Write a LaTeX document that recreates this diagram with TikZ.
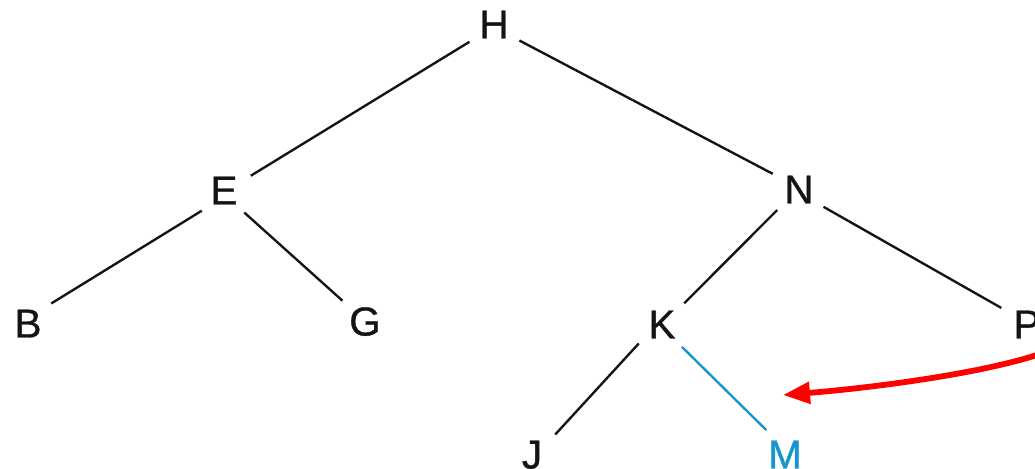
\documentclass[tikz,border=0pt]{standalone}
\usepackage{fontspec}
\setmainfont{Liberation Sans}
\newfontfamily\medsans[FakeBold=0.9]{Liberation Sans}
\usetikzlibrary{arrows.meta}
\definecolor{edgeblue}{RGB}{22,150,204}
\definecolor{ink}{RGB}{20,20,20}
\begin{document}
\begin{tikzpicture}[x=0.02cm,y=-0.02cm,
  lbl/.style={circle, minimum size=1.2cm, inner sep=0pt, text height=16.5pt, text depth=0pt,
    font=\medsans\fontsize{23}{27}\selectfont, text=ink},
  edge/.style={draw=ink, line width=1.35pt},
  hiedge/.style={draw=edgeblue, line width=1.35pt},
  pointer/.style={draw=red, line width=3.3pt, -{Triangle[length=0.54cm,width=0.42cm]}}]
\useasboundingbox (0,0) rectangle (1035,469);
\node[lbl] (H) at (494,24) {H};
\node[lbl] (E) at (224,190) {E};
\node[lbl] (N) at (799,189) {N};
\node[lbl] (B) at (28,323) {B};
\node[lbl] (G) at (365,321) {G};
\node[lbl] (K) at (662,324) {K};
\node[lbl] (P) at (1027,324) {P};
\node[lbl] (J) at (532,454) {J};
\node[lbl, text=edgeblue] (M) at (785,454) {M};
\draw[edge] (H.216) -- (E.28);
\draw[edge] (H.-33) -- (N.150);
\draw[edge] (E.223) -- (B.40);
\draw[edge] (E.-48) -- (G.138);
\draw[edge] (N.224) -- (K.43);
\draw[edge] (N.-36) -- (P.148);
\draw[edge] (K.220) -- (J.40);
\draw[hiedge] (K.-49) -- (M.128);
\coordinate (ptrstart) at (1040,354);
\coordinate (ptrend) at (783,395);
\draw[pointer] (ptrstart) .. controls (980,374) and (870,388) .. (ptrend);
\end{tikzpicture}
\end{document}
